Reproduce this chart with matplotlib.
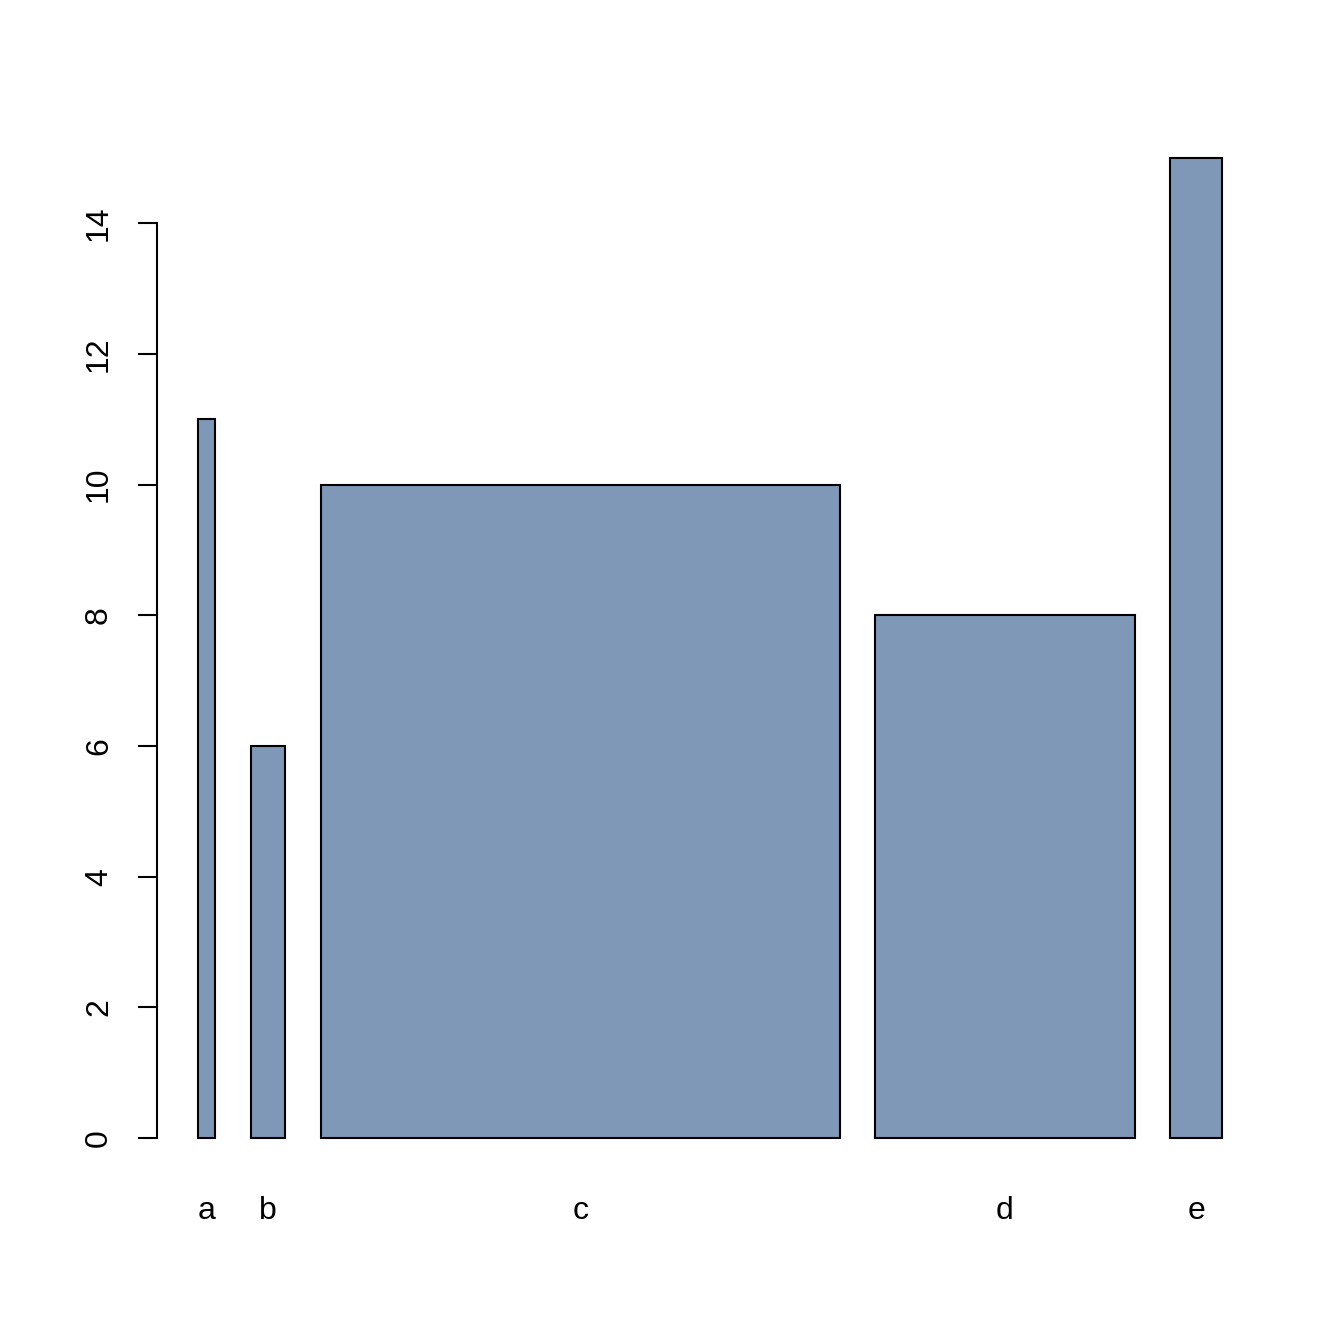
import numpy as np
import matplotlib.pyplot as plt

plt.rcParams['font.family'] = ['Liberation Sans', 'DejaVu Sans']

categorias = ['a', 'b', 'c', 'd', 'e']
valores = [11, 6, 10, 8, 15]
anchos = [0.5, 1, 15, 7.5, 1.5]
espacio = 0.2  # fraccion del ancho medio, como barplot de R

anchos = np.array(anchos, dtype=float)
hueco = espacio * anchos.mean()

# posiciones izquierdas de cada barra
izq = np.zeros(len(anchos))
x = 0.0
for i, w in enumerate(anchos):
    x += hueco
    izq[i] = x
    x += w
centros = izq + anchos / 2

fig = plt.figure(figsize=(13.44, 13.44), dpi=100)
ax = fig.add_axes([157/1344, 167/1344, 1106/1344, 1058/1344])

ax.bar(izq, valores, width=anchos, align='edge', color='#7F98B7',
       edgecolor='black', linewidth=1.5)

rango = (izq[-1] + anchos[-1]) - izq[0]
ax.set_xlim(izq[0] - 0.04 * rango, izq[-1] + anchos[-1] + 0.04 * rango)
ax.set_ylim(-0.6, 15.6)

for s in ['top', 'right', 'bottom']:
    ax.spines[s].set_visible(False)
ax.spines['left'].set_bounds(0, 14)
ax.spines['left'].set_linewidth(1.5)

ax.set_yticks(np.arange(0, 15, 2))
ax.set_yticklabels([str(v) for v in range(0, 15, 2)], rotation=90, va='center')
ax.tick_params(axis='y', length=14, width=1.5, pad=17, labelsize=23)

ax.set_xticks(centros)
ax.set_xticklabels(categorias)
ax.tick_params(axis='x', length=0, pad=14, labelsize=23)

plt.savefig('out.png', dpi=100)
